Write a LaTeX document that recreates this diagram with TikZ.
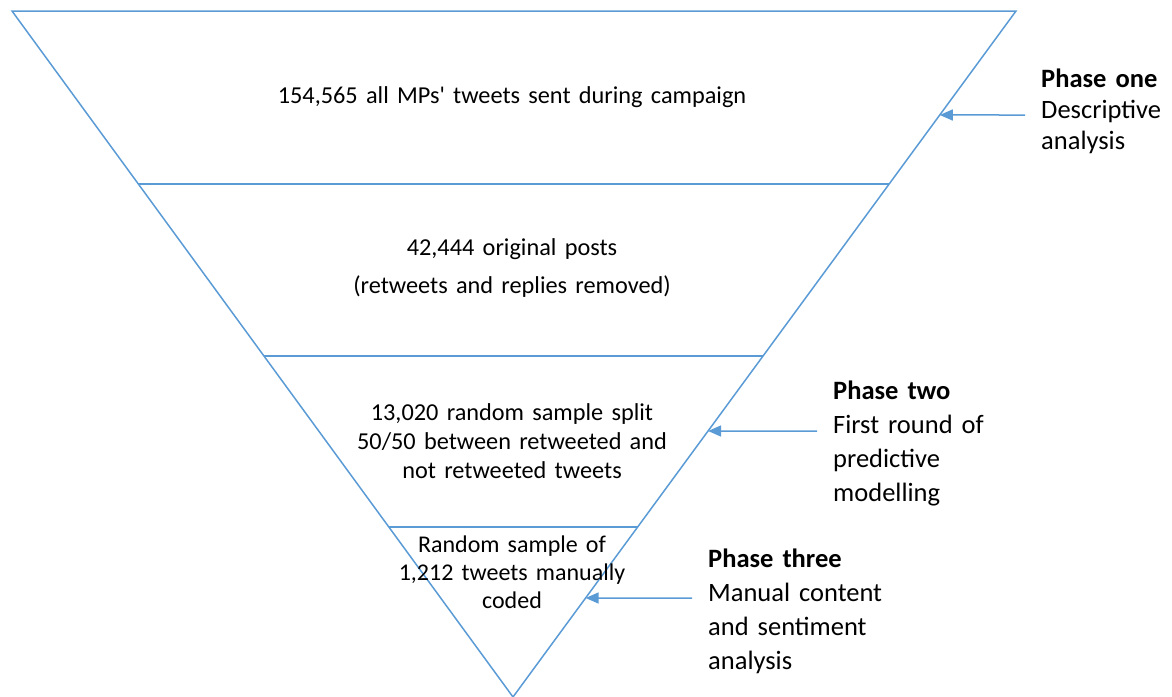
\documentclass[tikz,border=0pt]{standalone}
\usepackage{fontspec}
\setmainfont{Carlito}[WordSpace=1.5]
\usetikzlibrary{calc,arrows.meta}
\definecolor{funnel}{HTML}{5B9BD5}
\newcommand{\straightquote}{{\addfontfeature{Ligatures=TeXOff}'}}
\tikzset{
  edge/.style={draw=funnel, line width=1.5pt},
  pointer/.style={draw=funnel, line width=1.5pt, -{Triangle[length=13pt,width=11pt]}},
  bandtext/.style={align=center, inner sep=0pt, text=black},
  phasetext/.style={align=left, inner sep=0pt, anchor=west, text=black,
                    font=\fontsize{26.5}{34}\selectfont},
}
\begin{document}
\begin{tikzpicture}[x=1pt, y=-1pt]
\useasboundingbox (0,0) rectangle (1172,696);

% funnel outline
\coordinate (TL) at (12,11);
\coordinate (TR) at (1016,11);
\coordinate (A)  at (513,697);
\draw[edge, line join=miter] (TL) -- (TR) -- (A) -- cycle;

% band dividers (fraction of the way from the top corners to the apex)
\coordinate (L1) at ($(TL)!0.25219!(A)$);
\coordinate (R1) at ($(TR)!0.25219!(A)$);
\coordinate (L2) at ($(TL)!0.50292!(A)$);
\coordinate (R2) at ($(TR)!0.50292!(A)$);
\coordinate (L3) at ($(TL)!0.75219!(A)$);
\coordinate (R3) at ($(TR)!0.75219!(A)$);
\draw[edge] (L1) -- (R1);
\draw[edge] (L2) -- (R2);
\draw[edge] (L3) -- (R3);

% band contents
\node[bandtext, font=\fontsize{24.3}{38}\selectfont] (b1) at (512,97)
  {154,565 all MPs\straightquote{} tweets sent during campaign};
\node[bandtext, font=\fontsize{24.3}{38}\selectfont] (b2) at (512,268)
  {42,444 original posts\\(retweets and replies removed)};
\node[bandtext, font=\fontsize{24.3}{29}\selectfont] (b3) at (512,441)
  {13,020 random sample split\\50/50 between retweeted and\\not retweeted tweets};
\node[bandtext, font=\fontsize{24}{28}\selectfont] (b4) at (512,572)
  {Random sample of\\1,212 tweets manually\\coded};

% phase labels
\node[phasetext, font=\fontsize{26.5}{31}\selectfont] (p1) at (1041,111)
  {\textbf{Phase one}\\Descriptive\\analysis};
\node[phasetext] (p2) at (833,443)
  {\textbf{Phase two}\\First round of\\predictive\\modelling};
\node[phasetext] (p3) at (708,611)
  {\textbf{Phase three}\\Manual content\\and sentiment\\analysis};

% pointers onto the funnel edge
\coordinate (s1) at (1025,115);
\coordinate (e1) at ($(TR)!0.15160!(A)$);
\coordinate (s2) at (817,431);
\coordinate (e2) at ($(TR)!0.61224!(A)$);
\coordinate (s3) at (692,598);
\coordinate (e3) at ($(TR)!0.85569!(A)$);
\draw[pointer] (s1) -- (e1);
\draw[pointer] (s2) -- (e2);
\draw[pointer] (s3) -- (e3);
\end{tikzpicture}
\end{document}
